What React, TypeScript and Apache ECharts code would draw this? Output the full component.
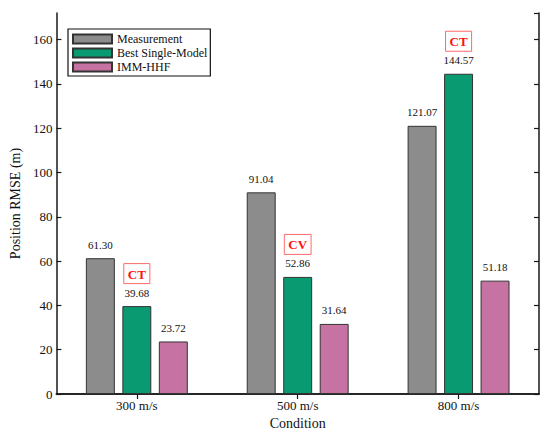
import React, { useEffect, useRef } from "react";
import * as echarts from "echarts";

const categories = ["300 m/s", "500 m/s", "800 m/s"];
const measurement = [61.3, 91.04, 121.07];
const bestSingle = [39.68, 52.86, 144.57];
const immHhf = [23.72, 31.64, 51.18];
const bestModels = ["CT", "CV", "CT"];
const seriesNames = ["Measurement", "Best Single-Model", "IMM-HHF"];

const FONT = "'Liberation Serif', 'Times New Roman', serif";

export default function App() {
  const ref = useRef<HTMLDivElement>(null);
  useEffect(() => {
    if (!ref.current) return;
    const chart = echarts.init(ref.current, null, { renderer: "svg" });
    const axisLine = { show: true, lineStyle: { color: "#1a1a1a", width: 1.5 } };
    const plainLabel = {
      show: true,
      position: "top",
      distance: 8,
      fontSize: 11,
      fontFamily: FONT,
      color: "#111",
      formatter: (p: any) => Number(p.value).toFixed(2),
    };
    const border = { borderColor: "#333", borderWidth: 1 };
    const option: any = {
      animation: false,
      backgroundColor: "#fff",
      textStyle: { fontFamily: FONT },
      grid: { left: 54, right: 11, top: 13, bottom: 44, containLabel: false },
      legend: {
        orient: "vertical",
        left: 68,
        top: 29,
        itemWidth: 39,
        itemHeight: 9,
        itemGap: 2,
        padding: [4, 3, 3, 4],
        borderColor: "#111",
        borderWidth: 1.2,
        icon: "rect",
        textStyle: { fontSize: 12, fontFamily: FONT, color: "#111" },
        data: seriesNames,
      },
      xAxis: [
        {
          type: "category",
          data: categories,
          position: "bottom",
          axisLine,
          axisTick: { show: true, inside: true, alignWithLabel: true, length: 6, lineStyle: { color: "#1a1a1a", width: 1.2 } },
          axisLabel: { fontSize: 13, fontFamily: FONT, color: "#111", margin: 5 },
          name: "Condition",
          nameLocation: "middle",
          nameGap: 21,
          nameTextStyle: { fontSize: 14, fontFamily: FONT, color: "#111" },
        },
        {
          type: "category",
          data: categories,
          position: "top",
          axisLine,
          axisTick: { show: true, inside: true, alignWithLabel: true, length: 5, lineStyle: { color: "#1a1a1a", width: 1.2 } },
          axisLabel: { show: false },
        },
      ],
      yAxis: [
        {
          type: "value",
          min: 0,
          max: 172,
          interval: 20,
          position: "left",
          axisLine,
          axisTick: { show: true, inside: true, length: 5, lineStyle: { color: "#1a1a1a", width: 1.2 } },
          axisLabel: { fontSize: 13, fontFamily: FONT, color: "#111", margin: 4, showMaxLabel: false },
          splitLine: { show: false },
          name: "Position RMSE (m)",
          nameLocation: "middle",
          nameGap: 31,
          nameTextStyle: { fontSize: 14, fontFamily: FONT, color: "#111" },
        },
        {
          type: "value",
          min: 0,
          max: 172,
          interval: 20,
          position: "right",
          axisLine,
          axisTick: { show: true, inside: true, length: 5, lineStyle: { color: "#1a1a1a", width: 1.2 } },
          axisLabel: { show: false },
          splitLine: { show: false },
        },
      ],
      series: [
        {
          name: seriesNames[0],
          type: "bar",
          data: measurement,
          barWidth: "18%",
          barGap: "26%",
          itemStyle: { color: "#8c8c8c", ...border },
          label: plainLabel,
        },
        {
          name: seriesNames[1],
          type: "bar",
          data: bestSingle,
          barWidth: "18%",
          barGap: "26%",
          itemStyle: { color: "#0a9a72", ...border },
          label: {
            show: true,
            position: "top",
            distance: 4.5,
            fontFamily: FONT,
            formatter: (p: any) => `{box|${bestModels[p.dataIndex]}}\n{val|${Number(p.value).toFixed(2)}}`,
            rich: {
              box: {
                color: "#ff1010",
                fontWeight: "bold",
                fontSize: 13,
                fontFamily: FONT,
                borderColor: "#ff6a6a",
                borderWidth: 1,
                padding: [4, 4, 3, 4],
              },
              val: { fontSize: 11, fontFamily: FONT, color: "#111", lineHeight: 18 },
            },
          },
        },
        {
          name: seriesNames[2],
          type: "bar",
          data: immHhf,
          barWidth: "18%",
          barGap: "26%",
          itemStyle: { color: "#c673a3", ...border },
          label: plainLabel,
        },
      ],
    };
    chart.setOption(option);
    return () => chart.dispose();
  }, []);
  return <div ref={ref} style={{ position: "fixed", left: 0, top: 0, width: 550, height: 438 }} />;
}
